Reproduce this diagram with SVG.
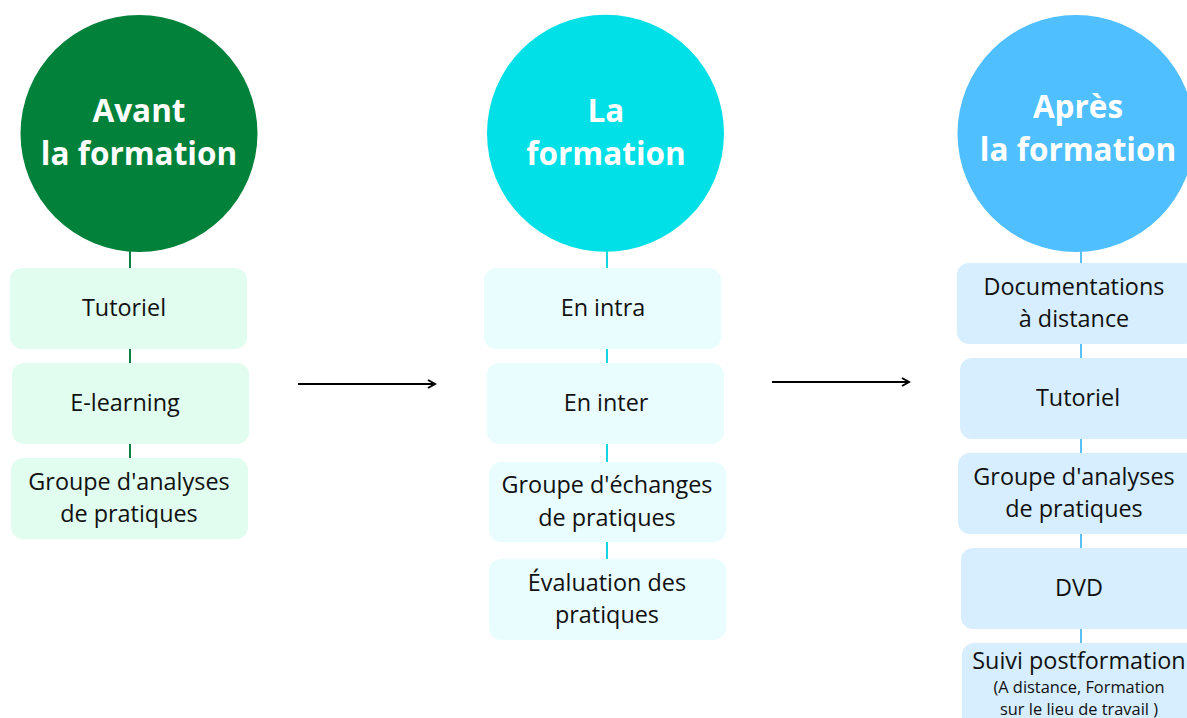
<svg xmlns="http://www.w3.org/2000/svg" width="1187" height="718" viewBox="0 0 1187 718">
<defs>
<style>
.title{font-family:"Open Sans","Noto Sans","Liberation Sans",sans-serif;font-weight:bold;font-size:31.5px;fill:#ffffff;text-anchor:middle}
.lbl{font-family:"Open Sans","Noto Sans","Liberation Sans",sans-serif;font-size:23.4px;fill:#111111;text-anchor:middle}
.sm{font-family:"Open Sans","Noto Sans","Liberation Sans",sans-serif;font-size:16.4px;fill:#111111;text-anchor:middle}
.g{fill:#e0fdef}
.c{fill:#e9fdff}
.b{fill:#d6eeff}
.lg{stroke:#0b8043;stroke-width:2}
.lc{stroke:#13d6e0;stroke-width:2}
.lb{stroke:#5bc0f8;stroke-width:2}
.arr{stroke:#000;stroke-width:2;fill:none}
</style>
<marker id="ah" viewBox="0 0 10 10" refX="8" refY="5" markerWidth="5" markerHeight="5" orient="auto" markerUnits="strokeWidth">
<path d="M1,1 L8,5 L1,9" fill="none" stroke="#000" stroke-width="2"/>
</marker>
</defs>
<rect width="1187" height="718" fill="#ffffff"/>
<g id="connectors">
<line class="lg" x1="130" y1="250" x2="130" y2="268"/>
<line class="lg" x1="130" y1="349" x2="130" y2="363"/>
<line class="lg" x1="130" y1="444" x2="130" y2="458"/>
<line class="lc" x1="607" y1="250" x2="607" y2="268"/>
<line class="lc" x1="607" y1="349" x2="607" y2="363"/>
<line class="lc" x1="607" y1="444" x2="607" y2="462"/>
<line class="lc" x1="607" y1="542" x2="607" y2="559"/>
<line class="lb" x1="1081" y1="250" x2="1081" y2="263"/>
<line class="lb" x1="1081" y1="344" x2="1081" y2="358"/>
<line class="lb" x1="1081" y1="439" x2="1081" y2="453"/>
<line class="lb" x1="1081" y1="534" x2="1081" y2="548"/>
<line class="lb" x1="1081" y1="629" x2="1081" y2="643"/>
<line class="arr" x1="298" y1="384" x2="435" y2="384" marker-end="url(#ah)"/>
<line class="arr" x1="772" y1="382" x2="909" y2="382" marker-end="url(#ah)"/>
</g>
<g id="avant">
<circle cx="139" cy="133.5" r="118.5" fill="#02813a"/>
<text class="title" x="139" y="122">Avant</text>
<text class="title" x="139" y="165">la formation</text>
</g>
<g id="avant-tutoriel"><rect class="g" x="10" y="268" width="237" height="81" rx="12"/><text class="lbl" x="124" y="316">Tutoriel</text></g>
<g id="avant-elearning"><rect class="g" x="12" y="363" width="237" height="81" rx="12"/><text class="lbl" x="125" y="411">E-learning</text></g>
<g id="avant-groupe"><rect class="g" x="11" y="458" width="237" height="81" rx="12"/><text class="lbl" x="129" y="490">Groupe d'analyses</text><text class="lbl" x="129" y="522">de pratiques</text></g>
<g id="la">
<circle cx="605.5" cy="133.3" r="118.5" fill="#00e0e6"/>
<text class="title" x="606" y="122">La</text>
<text class="title" x="606" y="165">formation</text>
</g>
<g id="la-intra"><rect class="c" x="484" y="268" width="237" height="81" rx="12"/><text class="lbl" x="603" y="316">En intra</text></g>
<g id="la-inter"><rect class="c" x="487" y="363" width="237" height="81" rx="12"/><text class="lbl" x="606" y="411">En inter</text></g>
<g id="la-groupe"><rect class="c" x="489" y="462" width="237" height="80" rx="12"/><text class="lbl" x="607" y="493">Groupe d'échanges</text><text class="lbl" x="607" y="526">de pratiques</text></g>
<g id="la-evaluation"><rect class="c" x="489" y="559" width="237" height="81" rx="12"/><text class="lbl" x="607" y="591">Évaluation des</text><text class="lbl" x="607" y="623">pratiques</text></g>
<g id="apres">
<circle cx="1076" cy="133.5" r="118.5" fill="#4fbfff"/>
<text class="title" x="1078" y="118">Après</text>
<text class="title" x="1078" y="161">la formation</text>
</g>
<g id="apres-doc"><rect class="b" x="957" y="263" width="240" height="81" rx="12"/><text class="lbl" x="1074" y="295">Documentations</text><text class="lbl" x="1074" y="327">à distance</text></g>
<g id="apres-tutoriel"><rect class="b" x="960" y="358" width="240" height="81" rx="12"/><text class="lbl" x="1078" y="406">Tutoriel</text></g>
<g id="apres-groupe"><rect class="b" x="958" y="453" width="240" height="81" rx="12"/><text class="lbl" x="1074" y="485">Groupe d'analyses</text><text class="lbl" x="1074" y="517">de pratiques</text></g>
<g id="apres-dvd"><rect class="b" x="961" y="548" width="240" height="81" rx="12"/><text class="lbl" x="1079" y="596">DVD</text></g>
<g id="apres-suivi"><rect class="b" x="962" y="643" width="240" height="90" rx="12"/><text class="lbl" x="1079" y="669">Suivi postformation</text><text class="sm" x="1079" y="693">(A distance, Formation</text><text class="sm" x="1079" y="715">sur le lieu de travail )</text></g>
</svg>
